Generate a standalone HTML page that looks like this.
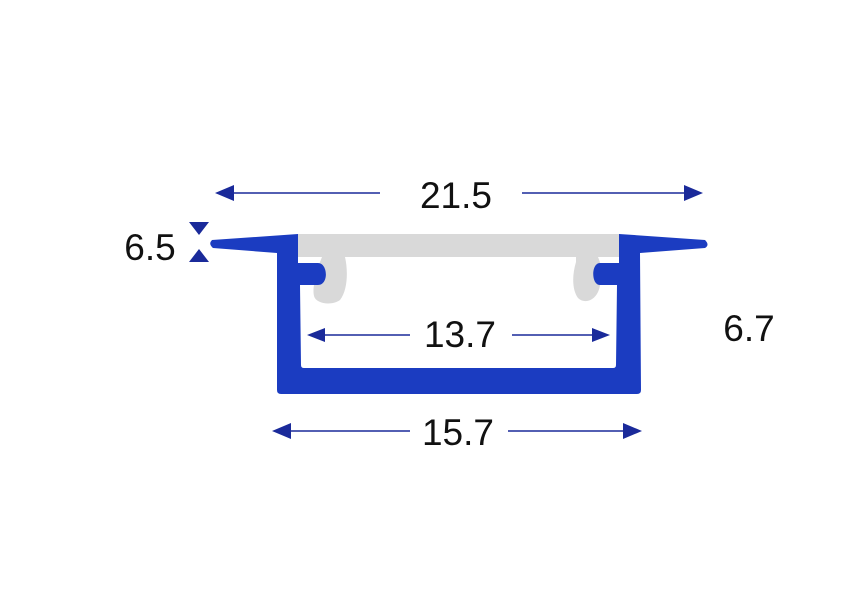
<!DOCTYPE html>
<html><head><style>body{margin:0;background:#fff}</style></head><body>
<svg width="859" height="612" xmlns="http://www.w3.org/2000/svg" style="display:block">
<rect width="859" height="612" fill="#fff"/>
<!-- gray cover -->
<path d="M298 234 H619 V257 H598 C600 262 603 268 600 285 C598 300 585 305 578 298 C572 290 572 275 576 262 L576 257 H345 C348 270 348 290 340 300 C332 306 316 304 314 296 C312 288 316 275 320 262 L322 257 H298 Z" fill="#d9d9d9"/>
<!-- blue profile -->
<path d="M212 240 L298 234 V263 H318 C328 263 329 285 318 285 H300 L301 365 Q301 368 304 368 H613 Q616 368 616 365 L617 285 H600 C591 285 591 263 600 263 H619 V234 L705 240 Q710 245 705 248 L640 253 L641 390 Q641 394 637 394 H281 Q277 394 277 390 V253 L213 248 Q208 244 212 240 Z" fill="#1b3cc1"/>
<g fill="#1a2a9a" stroke="#1a2a9a" stroke-width="1.5">
<line x1="230" y1="193" x2="380" y2="193"/><line x1="522" y1="193" x2="688" y2="193"/>
<polygon points="215,193 234,185 234,201" stroke="none"/><polygon points="703,193 684,185 684,201" stroke="none"/>
<line x1="322" y1="335" x2="410" y2="335"/><line x1="512" y1="335" x2="596" y2="335"/>
<polygon points="307,335 325,328 325,342" stroke="none"/><polygon points="610,335 592,328 592,342" stroke="none"/>
<line x1="288" y1="431" x2="410" y2="431"/><line x1="508" y1="431" x2="628" y2="431"/>
<polygon points="272,431 291,423 291,439" stroke="none"/><polygon points="642,431 623,423 623,439" stroke="none"/>
<polygon points="189,222 209,222 199,235" stroke="none"/><polygon points="189,262 209,262 199,249" stroke="none"/>
</g>
<g font-family="Liberation Sans, sans-serif" font-size="37" fill="#111">
<text x="456" y="208" text-anchor="middle">21.5</text>
<text x="460" y="347" text-anchor="middle">13.7</text>
<text x="458" y="445" text-anchor="middle">15.7</text>
<text x="150" y="260" text-anchor="middle">6.5</text>
<text x="749" y="341" text-anchor="middle">6.7</text>
</g>
</svg>
</body></html>
